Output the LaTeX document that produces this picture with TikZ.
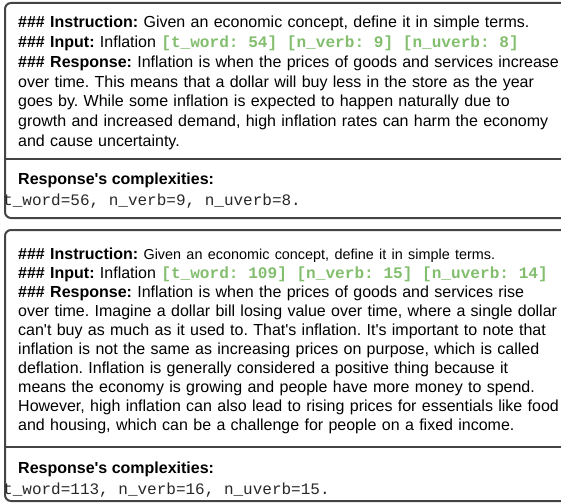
\documentclass[tikz,border=0pt]{standalone}
\usepackage{fontspec}
\setmainfont{Liberation Sans}
\newfontfamily\monofont{Liberation Mono}
\usetikzlibrary{positioning}
\frenchspacing

\definecolor{frameGray}{RGB}{68,68,68}
\definecolor{tagGreen}{RGB}{130,190,110}
\definecolor{inkGray}{RGB}{40,40,40}
\newcommand{\cplxtag}[1]{{\fontsize{16.1}{19}\monofont\bfseries\color{tagGreen}#1}}
\newcommand{\msp}{\hspace*{0.6em}}
\newcommand{\apos}{\textquotesingle}

\begin{document}
\begin{tikzpicture}[
    x=1pt, y=1pt,
    panel/.style={draw=frameGray, line width=2pt, rounded corners=6pt},
    divider/.style={draw=frameGray, line width=2pt},
    body/.style={anchor=base west, inner sep=0pt, text width=570pt, align=left, text=black},
    heading/.style={anchor=base west, inner sep=0pt, font=\fontsize{16}{19}\selectfont\bfseries},
    values/.style={anchor=base west, inner sep=0pt, text=inkGray, font=\fontsize{16}{19}\monofont}
]
\useasboundingbox (0,0) rectangle (561,-503);

% First example (short response)
\draw[panel] (5,-3) rectangle (590,-218);
\draw[divider] (5,-159) -- (590,-159);
\node[body, font=\fontsize{16}{19.7}\selectfont] (promptA) at (18,-28) {%
\textbf{\#\#\# Instruction:} Given an economic concept, define it in simple terms.\\
\textbf{\#\#\# Input:} Inflation \cplxtag{[t\_word:\msp 54]\msp[n\_verb:\msp 9]\msp[n\_uverb:\msp 8]}\\
\textbf{\#\#\# Response:} Inflation is when the prices of goods and services increase\\
over time. This means that a dollar will buy less in the store as the year\\
goes by. While some inflation is expected to happen naturally due to\\
growth and increased demand, high inflation rates can harm the economy\\
and cause uncertainty.};
\node[heading] (cplxA) at (18,-184) {Response\apos s complexities:};
\node[values] (valsA) at (3,-205) {t\_word=56,\msp n\_verb=9,\msp n\_uverb=8.};

% Second example (long response)
\draw[panel] (5,-230) rectangle (590,-501);
\draw[divider] (5,-447) -- (590,-447);
\node[body, font=\fontsize{16}{19.1}\selectfont] (promptB) at (18,-259) {%
\textbf{\#\#\# Instruction:} {\fontsize{14.4}{19}\selectfont Given an economic concept, define it in simple terms.}\\
\textbf{\#\#\# Input:} Inflation \cplxtag{[t\_word:\msp 109]\msp[n\_verb:\msp 15]\msp[n\_uverb:\msp 14]}\\
\textbf{\#\#\# Response:} Inflation is when the prices of goods and services rise\\
over time. Imagine a dollar bill losing value over time, where a single dollar\\
can\apos t buy as much as it used to. That\apos s inflation. It\apos s important to note that\\
inflation is not the same as increasing prices on purpose, which is called\\
deflation. Inflation is generally considered a positive thing because it\\
means the economy is growing and people have more money to spend.\\
However, high inflation can also lead to rising prices for essentials like food\\
and housing, which can be a challenge for people on a fixed income.};
\node[heading] (cplxB) at (18,-473) {Response\apos s complexities:};
\node[values] (valsB) at (3,-494) {t\_word=113,\msp n\_verb=16,\msp n\_uverb=15.};

\end{tikzpicture}
\end{document}
